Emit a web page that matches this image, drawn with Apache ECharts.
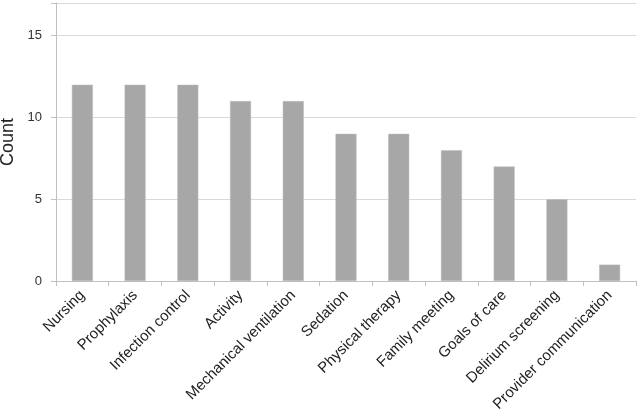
<!DOCTYPE html>
<html>
<head>
<meta charset="utf-8">
<script src="https://cdn.jsdelivr.net/npm/echarts@6/dist/echarts.min.js"></script>
<style>html,body{margin:0;padding:0;background:#fff}#c{width:640px;height:413px}</style>
</head>
<body>
<div id="c"></div>
<script>
const categories = ["Nursing","Prophylaxis","Infection control","Activity","Mechanical ventilation","Sedation","Physical therapy","Family meeting","Goals of care","Delirium screening","Provider communication"];
const counts = [12,12,12,11,11,9,9,8,7,5,1];
const yTicks = [0,5,10,15];

const chart = echarts.init(document.getElementById('c'), null, {renderer:'canvas'});
const font = "Liberation Sans, Arial, sans-serif";
chart.setOption({
  animation:false,
  grid:{left:56,right:4,top:3,bottom:132,containLabel:false,outerBoundsMode:'none'},
  xAxis:{
    type:'category',
    data:categories,
    axisLine:{lineStyle:{color:'#c0c0c0',width:1}},
    axisTick:{show:true,length:5,lineStyle:{color:'#c0c0c0'}},
    axisLabel:{rotate:45,interval:0,color:'#222',fontSize:15,fontFamily:font,margin:12}
  },
  yAxis:{
    type:'value',min:0,max:17,interval:5,
    name:'Count',nameLocation:'middle',nameRotate:90,nameGap:32,
    nameTextStyle:{fontSize:18,color:'#222',fontFamily:font},
    axisLine:{show:true,lineStyle:{color:'#c0c0c0'}},
    axisTick:{show:true,length:5,lineStyle:{color:'#c0c0c0'}},
    axisLabel:{color:'#333',fontSize:13,fontFamily:font,margin:14,
      formatter:v=>yTicks.includes(v)?String(v):''},
    splitLine:{show:true,lineStyle:{color:'#d9d9d9'}}
  },
  series:[{
    type:'bar',data:counts,barWidth:21,
    itemStyle:{color:'#a8a7a7',borderColor:'#bdbdbd',borderWidth:0.5}
  }]
});
</script>
</body>
</html>
